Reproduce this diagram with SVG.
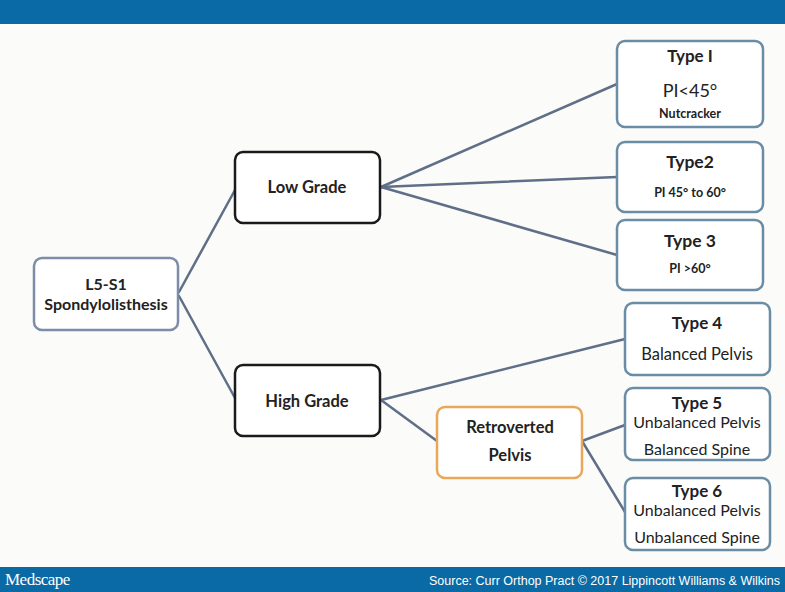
<svg xmlns="http://www.w3.org/2000/svg" width="785" height="592" viewBox="0 0 785 592">
<style>
.bx{fill:#ffffff;stroke:#6a8ca4;stroke-width:2.5}
.dk{fill:#ffffff;stroke:#1a1a1a;stroke-width:2.5}
.or{fill:#ffffff;stroke:#eaa75a;stroke-width:2.5}
.rt{fill:#ffffff;stroke:#7d8ca8;stroke-width:2.5}
text{font-family:Lato,"Liberation Sans",sans-serif;fill:#222;text-anchor:middle}
.b{font-weight:bold}
.cn line{stroke:#5f6f88;stroke-width:2.5;stroke-linecap:round}
</style>
<rect x="0" y="0" width="785" height="592" fill="#fbfbf9"/>
<rect x="0" y="0" width="785" height="24" fill="#0a6aa5"/>
<g class="cn">
<line x1="179" y1="292" x2="235" y2="190"/>
<line x1="179" y1="296" x2="235" y2="398"/>
<line x1="381" y1="187" x2="617" y2="84"/>
<line x1="381" y1="187" x2="617" y2="177"/>
<line x1="381" y1="187" x2="617" y2="255"/>
<line x1="381" y1="400" x2="625" y2="339"/>
<line x1="381" y1="400" x2="437" y2="441"/>
<line x1="582" y1="441" x2="625" y2="425"/>
<line x1="582" y1="441" x2="625" y2="512"/>
</g>
<g id="root"><rect class="rt" x="34" y="258" width="144" height="72" rx="8"/><text class="b" x="106" y="290" font-size="16">L5-S1</text><text class="b" x="106" y="310" font-size="16">Spondylolisthesis</text></g>
<g id="low"><rect class="dk" x="235" y="152" width="145" height="71" rx="8"/><text class="b" x="307" y="193" font-size="16.5">Low Grade</text></g>
<g id="high"><rect class="dk" x="235" y="365" width="145" height="71" rx="8"/><text class="b" x="307" y="407" font-size="16.5">High Grade</text></g>
<g id="retro"><rect class="or" x="437" y="407" width="145" height="71" rx="8"/><text class="b" x="510" y="433" font-size="16.5">Retroverted</text><text class="b" x="510" y="461" font-size="16.5">Pelvis</text></g>
<g id="t1"><rect class="bx" x="617" y="41" width="146" height="86" rx="8"/><text class="b" x="690" y="62" font-size="17">Type I</text><text x="690" y="97" font-size="18">PI&lt;45°</text><text class="b" x="690" y="118" font-size="12.5">Nutcracker</text></g>
<g id="t2"><rect class="bx" x="617" y="142" width="146" height="70" rx="8"/><text class="b" x="690" y="168" font-size="17.5">Type2</text><text class="b" x="690" y="197" font-size="12.5">PI 45° to 60°</text></g>
<g id="t3"><rect class="bx" x="617" y="220" width="146" height="70" rx="8"/><text class="b" x="690" y="247" font-size="17.5">Type 3</text><text class="b" x="690" y="273" font-size="12.5">PI &gt;60°</text></g>
<g id="t4"><rect class="bx" x="625" y="303" width="145" height="72" rx="8"/><text class="b" x="697" y="329" font-size="17">Type 4</text><text x="697" y="360" font-size="16.5">Balanced Pelvis</text></g>
<g id="t5"><rect class="bx" x="625" y="388" width="145" height="72" rx="8"/><text class="b" x="697" y="409" font-size="17">Type 5</text><text x="697" y="428" font-size="16">Unbalanced Pelvis</text><text x="697" y="455" font-size="16">Balanced Spine</text></g>
<g id="t6"><rect class="bx" x="625" y="478" width="145" height="72" rx="8"/><text class="b" x="697" y="497" font-size="17">Type 6</text><text x="697" y="516" font-size="16">Unbalanced Pelvis</text><text x="697" y="543" font-size="16">Unbalanced Spine</text></g>
<rect x="0" y="567" width="785" height="25" fill="#0a6aa5"/>
<text x="5" y="585" font-size="17" style="font-family:'Liberation Serif',serif;fill:#fff;text-anchor:start;letter-spacing:-0.5px">Medscape</text>
<text x="780" y="585" font-size="12.5" style="font-family:'Liberation Sans',sans-serif;fill:#fff;text-anchor:end">Source: Curr Orthop Pract © 2017 Lippincott Williams &amp; Wilkins</text>
</svg>
